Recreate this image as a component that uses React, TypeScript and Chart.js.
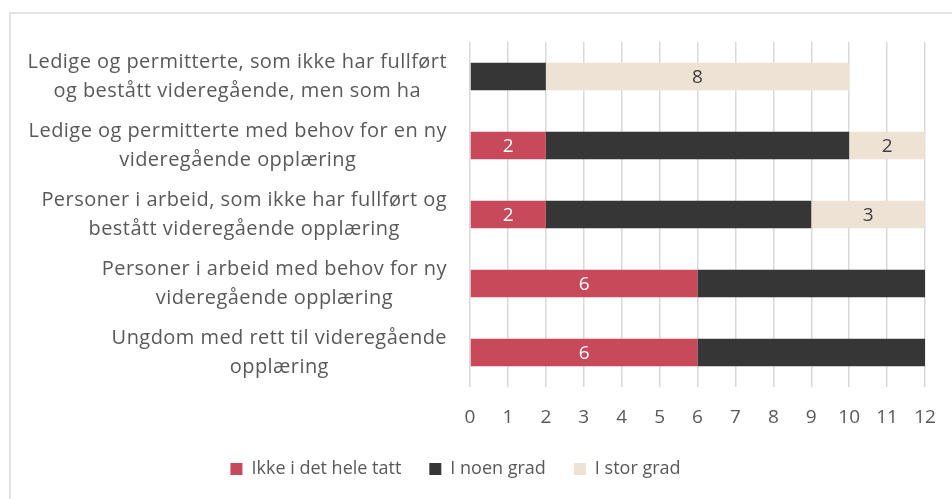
import React, { useEffect, useRef } from "react";
import { Chart, registerables } from "chart.js";

Chart.register(...registerables);

const categories: string[][] = [
  ["Ledige og permitterte, som ikke har fullført", "og bestått videregående, men som ha"],
  ["Ledige og permitterte med behov for en ny", "videregående opplæring"],
  ["Personer i arbeid, som ikke har fullført og", "bestått videregående opplæring"],
  ["Personer i arbeid med behov for ny", "videregående opplæring"],
  ["Ungdom med rett til videregående", "opplæring"],
];
const seriesNames = ["Ikke i det hele tatt", "I noen grad", "I stor grad"];
const ikkeIDetHeleTatt = [0, 2, 2, 6, 6];
const iNoenGrad = [2, 8, 7, 6, 6];
const iStorGrad = [8, 2, 3, 0, 0];
const xMin = 0;
const xMax = 12;

const FONT = "'Open Sans', sans-serif";
const TEXT = "#595959";
const COLORS = ["#C8495A", "#363636", "#EDE2D3"];
const LABEL_COLORS = ["#FFFFFF", null, "#404040"];

const yLabelPlugin = {
  id: "yLabelPlugin",
  afterDraw(chart: any) {
    const ctx = chart.ctx;
    const yScale = chart.scales.y;
    const rightEdge = chart.chartArea.left - 23;
    ctx.save();
    ctx.font = `20px ${FONT}`;
    try {
      (ctx as any).letterSpacing = "0.45px";
    } catch (e) {}
    ctx.fillStyle = TEXT;
    ctx.textAlign = "center";
    ctx.textBaseline = "middle";
    const lh = 29;
    categories.forEach((lines, i) => {
      const y = yScale.getPixelForValue(i);
      const maxW = Math.max(...lines.map((l) => ctx.measureText(l).width));
      const cx = rightEdge - maxW / 2;
      const startY = y - ((lines.length - 1) * lh) / 2;
      lines.forEach((l, j) => ctx.fillText(l, cx, startY + j * lh));
    });
    ctx.restore();
  },
};

const dataLabelPlugin = {
  id: "dataLabelPlugin",
  afterDatasetsDraw(chart: any) {
    const ctx = chart.ctx;
    ctx.save();
    ctx.font = `19px ${FONT}`;
    ctx.textAlign = "center";
    ctx.textBaseline = "middle";
    chart.data.datasets.forEach((ds: any, di: number) => {
      const color = LABEL_COLORS[di];
      if (!color) return;
      const meta = chart.getDatasetMeta(di);
      meta.data.forEach((el: any, i: number) => {
        const v = ds.data[i];
        if (!v) return;
        const p = el.getCenterPoint();
        ctx.fillStyle = color;
        ctx.fillText(String(v), p.x, p.y + 1);
      });
    });
    ctx.restore();
  },
};

const legendShiftPlugin = {
  id: "legendShift",
  afterLayout(chart: any) {
    const lg = chart.legend;
    if (lg) {
      lg.left -= 7;
      lg.right -= 7;
      lg.top -= 5;
      lg.bottom -= 5;
    }
  },
};

export default function App() {
  const canvasRef = useRef<HTMLCanvasElement>(null);

  useEffect(() => {
    const canvas = canvasRef.current;
    if (!canvas) return;
    const chart = new Chart(canvas, {
      type: "bar",
      data: {
        labels: categories.map((c) => c.join(" ")),
        datasets: [
          { label: seriesNames[0], data: ikkeIDetHeleTatt, backgroundColor: COLORS[0] },
          { label: seriesNames[1], data: iNoenGrad, backgroundColor: COLORS[1] },
          { label: seriesNames[2], data: iStorGrad, backgroundColor: COLORS[2] },
        ],
      },
      options: {
        indexAxis: "y",
        animation: false,
        responsive: false,
        maintainAspectRatio: false,
        layout: { padding: { top: 42, right: 27, left: 0, bottom: 6 } },
        datasets: {
          bar: { barPercentage: 0.4, categoryPercentage: 1, borderWidth: 0 },
        },
        scales: {
          x: {
            stacked: true,
            min: xMin,
            max: xMax,
            ticks: {
              stepSize: 1,
              color: TEXT,
              font: { family: FONT, size: 19 },
              padding: 0,
            },
            grid: {
              color: "#D9D9D9",
              lineWidth: 1.5,
              drawTicks: true,
              tickLength: 19,
              tickColor: "rgba(0,0,0,0)",
            },
            border: { display: false },
            afterFit(scale: any) {
              scale.height = 50;
            },
          },
          y: {
            stacked: true,
            ticks: { display: false },
            grid: { display: false },
            border: { display: false },
            afterFit(scale: any) {
              scale.width = 470;
            },
          },
        },
        plugins: {
          legend: {
            position: "bottom",
            labels: {
              color: TEXT,
              font: { family: FONT, size: 18 },
              boxWidth: 12,
              boxHeight: 12,
              padding: 28,
            },
          },
          tooltip: { enabled: false },
        },
      },
      plugins: [yLabelPlugin, dataLabelPlugin, legendShiftPlugin],
    });
    return () => chart.destroy();
  }, []);

  return (
    <div
      style={{
        position: "absolute",
        left: 0,
        top: 0,
        width: 952,
        height: 499,
        overflow: "hidden",
        background: "#fff",
      }}
    >
      <canvas ref={canvasRef} width={952} height={499} style={{ position: "absolute", left: 0, top: 0 }} />
      <div
        style={{
          position: "absolute",
          left: 9,
          top: 12,
          width: 960,
          height: 500,
          border: "2px solid #E3E3E3",
          pointerEvents: "none",
        }}
      />
    </div>
  );
}
